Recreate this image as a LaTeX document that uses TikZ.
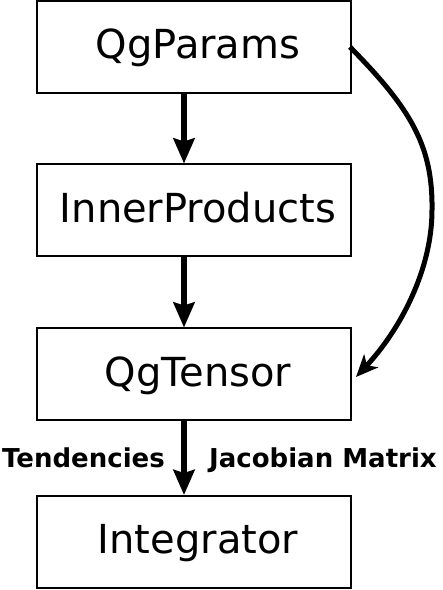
\documentclass[tikz,border=0pt]{standalone}
\usepackage{fontspec}
\setmainfont{DejaVu Sans}
\usetikzlibrary{arrows.meta}
\usetikzlibrary{calc}

\tikzset{
	module/.style={draw, line width=2pt, minimum width=314pt, minimum height=92pt,
		inner sep=0pt, text height=30pt, text depth=6pt,
		font=\fontsize{40}{48}\selectfont},
	flow/.style={line width=6.5pt, -{Stealth[length=25pt,width=21pt,inset=3pt]}},
	flowlabel/.style={inner sep=0pt, font=\fontsize{26}{31}\selectfont\bfseries}
}

\begin{document}
\begin{tikzpicture}[x=1pt,y=1pt]
	% canvas: 443 x 590
	\useasboundingbox (0,0) rectangle (443,590);

	% modules, top to bottom
	\node[module] (params) at (194,543) {\hspace{8pt}QgParams};
	\node[module] (inner) at (194,379.5) {\hspace{8pt}InnerProducts};
	\node[module] (tensor) at (194,215.5) {\hspace{8pt}QgTensor};
	\node[module] (integrator) at (194,48) {\hspace{8pt}Integrator};

	% straight flow, a bit left of centre
	\draw[flow] ([xshift=-10pt]params.south) -- ([xshift=-10pt]inner.north);
	\draw[flow] ([xshift=-10pt]inner.south) -- ([xshift=-10pt]tensor.north);
	\draw[flow] ([xshift=-10pt]tensor.south) -- ([xshift=-10pt]integrator.north);

	% params go straight into the tensor too
	\draw[line width=5pt, -{Stealth[length=22pt,width=19pt,inset=6pt]}]
		([xshift=-2pt]params.east) .. controls (410,482) and (433,445) .. (432,380)
		.. controls (432,320) and (400,260) .. ([xshift=4pt,yshift=-2.5pt]tensor.east);

	% outputs of the tensor
	\node[flowlabel, anchor=base east] (tend) at (165,122) {Tendencies};
	\node[flowlabel, anchor=base west] (jac) at (209,122) {Jacobian Matrix};
\end{tikzpicture}
\end{document}
